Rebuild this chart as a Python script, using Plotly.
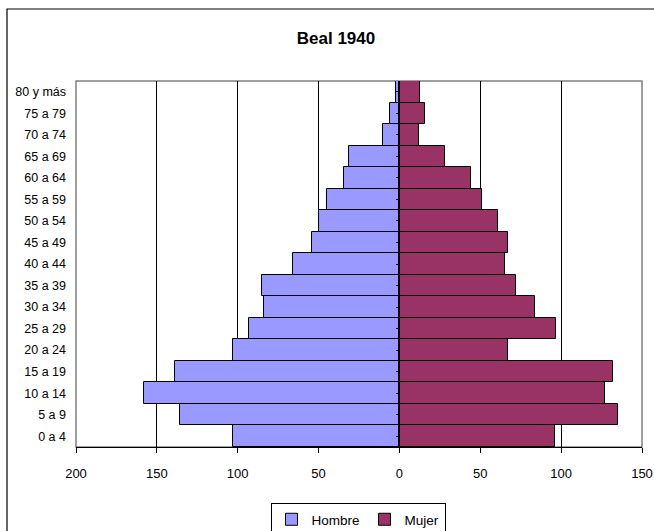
import plotly.graph_objects as go

categorias = ["0 a 4", "5 a 9", "10 a 14", "15 a 19", "20 a 24", "25 a 29",
              "30 a 34", "35 a 39", "40 a 44", "45 a 49", "50 a 54", "55 a 59",
              "60 a 64", "65 a 69", "70 a 74", "75 a 79", "80 y más"]
hombre = [103, 136, 158, 139, 103, 93, 84, 85, 66, 54, 50, 45, 34, 31, 10, 6, 2]
mujer = [96, 135, 127, 132, 67, 97, 84, 72, 65, 67, 61, 51, 44, 28, 12, 16, 13]
tick_vals = [-200, -150, -100, -50, 0, 50, 100, 150]
tick_text = ["200", "150", "100", "50", "0", "50", "100", "150"]

W, H = 654, 531
L, R, T, B = 76, 12, 81, 84
pw, ph = W - L - R, H - T - B
xmin, xmax = -200, 150

FONT = "Liberation Sans, Arial, sans-serif"

fig = go.Figure()
fig.add_trace(go.Bar(
    y=categorias, x=[-v for v in hombre], orientation="h", name="Hombre",
    marker=dict(color="#9999FF", line=dict(color="black", width=1)),
    customdata=hombre, hovertemplate="%{y}: %{customdata}<extra>Hombre</extra>",
))
fig.add_trace(go.Bar(
    y=categorias, x=mujer, orientation="h", name="Mujer", yaxis="y2",
    marker=dict(color="#993366", line=dict(color="black", width=1)),
    hovertemplate="%{y}: %{x}<extra>Mujer</extra>",
))

def px_x(p):
    return (p - L) / pw

def px_y(p):
    return (H - B - p) / ph

fig.update_layout(
    width=W, height=H,
    margin=dict(l=L, r=R, t=T, b=B, autoexpand=False),
    paper_bgcolor="white", plot_bgcolor="white",
    barmode="overlay", bargap=0,
    font=dict(family=FONT, size=12.5, color="black"),
    title=dict(text="<b>Beal 1940</b>", x=336 / W, xref="container", xanchor="center",
               y=1 - 38 / H, yref="container", yanchor="middle",
               font=dict(family=FONT, size=17, color="black")),
    xaxis=dict(range=[xmin, xmax], tickvals=tick_vals, ticktext=tick_text,
               showgrid=True, gridcolor="black", gridwidth=1,
               zeroline=False, showline=True, linecolor="black", linewidth=1,
               ticks="outside", ticklen=5, tickcolor="black",
               ticklabelstandoff=9, fixedrange=True, automargin=False,
               tickfont=dict(size=13)),
    yaxis=dict(categoryorder="array", categoryarray=categorias,
               range=[-0.5, len(categorias) - 0.5],
               showgrid=False, zeroline=False, showline=False,
               ticks="", ticklabelstandoff=9, automargin=False),
    yaxis2=dict(categoryorder="array", categoryarray=categorias,
                range=[-0.5, len(categorias) - 0.5],
                overlaying="y", anchor="free", side="left",
                position=(0 - xmin) / (xmax - xmin),
                showgrid=False, zeroline=False, showline=True,
                linecolor="black", linewidth=1,
                ticks="outside", ticklen=3, tickcolor="black",
                showticklabels=False, automargin=False),
    legend=dict(orientation="h", x=px_x(358), xanchor="center", y=px_y(503), yanchor="top",
                bordercolor="black", borderwidth=1, bgcolor="white",
                itemwidth=30, font=dict(family=FONT, size=13.5)),
    showlegend=True,
    shapes=[
        dict(type="rect", xref="paper", yref="paper", x0=0, x1=1, y0=0, y1=1,
             line=dict(color="#808080", width=1.5), layer="below"),
        dict(type="rect", xref="paper", yref="paper",
             x0=px_x(7), x1=px_x(W + 20), y0=px_y(H + 20), y1=px_y(9),
             line=dict(color="black", width=1.2), layer="below"),
    ],
)

fig.write_html("out.html")
